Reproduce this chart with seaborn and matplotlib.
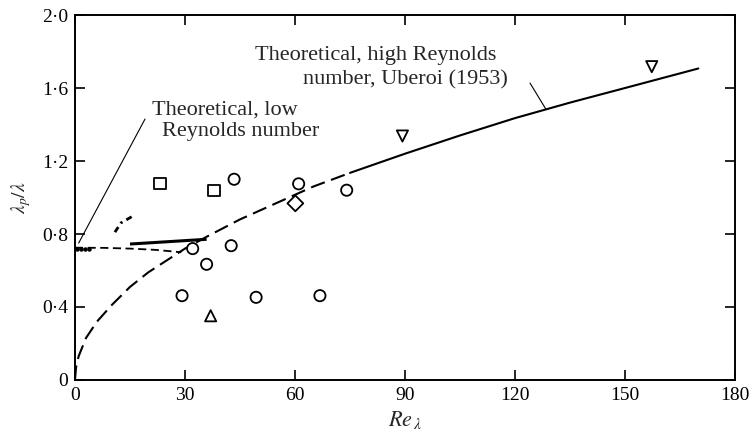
import numpy as np
import pandas as pd
import matplotlib
matplotlib.use("Agg")
import matplotlib.pyplot as plt
from matplotlib.ticker import FuncFormatter
import seaborn as sns

sns.set_theme(style="ticks", context="paper")
plt.rcParams['font.family'] = ['Liberation Serif', 'DejaVu Serif']
plt.rcParams['mathtext.fontset'] = 'stix'
plt.rcParams['axes.linewidth'] = 1.4

# measured points (Re_lambda, lambda_p / lambda)
circle_re = [29.2, 32.1, 35.9, 42.6, 43.4, 49.4, 61.0, 66.8, 74.1]
circle_val = [0.462, 0.72, 0.634, 0.736, 1.10, 0.453, 1.075, 0.462, 1.04]
square_re = [23.2, 37.9]
square_val = [1.078, 1.04]
diamond_re = [60.1]
diamond_val = [0.968]
tri_up_re = [37.0]
tri_up_val = [0.352]
tri_down_re = [89.3, 157.3]
tri_down_val = [1.337, 1.717]

# high Reynolds number theory (Uberoi 1953)
high_re_dash = [0, 0.3, 1, 3, 6, 10, 15, 20, 25, 30, 36, 45, 55, 65, 75]
high_val_dash = [0, 0.07, 0.13, 0.23, 0.32, 0.41, 0.51, 0.59, 0.655, 0.72, 0.786, 0.88, 0.97, 1.06, 1.135]
high_re_solid = [75, 90, 105, 120, 135, 150, 170]
high_val_solid = [1.135, 1.24, 1.34, 1.435, 1.52, 1.60, 1.707]

# low Reynolds number theory
low_re = [0, 8, 15, 22, 29]
low_val = [0.725, 0.724, 0.72, 0.713, 0.70]
low_dots_re = [0.6, 1.6, 2.7, 3.8]
low_dots_val = [0.72, 0.72, 0.72, 0.72]

# short segments
dashdot_re = [10.9, 12.5, 15.5]
dashdot_val = [0.81, 0.86, 0.895]
thick_re = [15.0, 35.9]
thick_val = [0.745, 0.771]

x_ticks = [0, 30, 60, 90, 120, 150, 180]
y_ticks = [0, 0.4, 0.8, 1.2, 1.6, 2.0]

df = pd.concat([
    pd.DataFrame({'Re': circle_re, 'ratio': circle_val, 'kind': 'circle'}),
    pd.DataFrame({'Re': square_re, 'ratio': square_val, 'kind': 'square'}),
    pd.DataFrame({'Re': diamond_re, 'ratio': diamond_val, 'kind': 'diamond'}),
    pd.DataFrame({'Re': tri_up_re, 'ratio': tri_up_val, 'kind': 'up'}),
    pd.DataFrame({'Re': tri_down_re, 'ratio': tri_down_val, 'kind': 'down'}),
], ignore_index=True)
marker_map = {'circle': 'o', 'square': 's', 'diamond': 'D', 'up': '^', 'down': 'v'}

fig = plt.figure(figsize=(7.49, 4.42), dpi=100)
ax = fig.add_axes([0.1001, 0.1403, 0.8812, 0.8257])

# curves
ax.plot(high_re_dash, high_val_dash, color='black', lw=1.5, dashes=(7, 3.2))
ax.plot(high_re_solid, high_val_solid, color='black', lw=1.5)
ax.plot(low_re, low_val, color='black', lw=1.3, dashes=(4.5, 2.5))
ax.plot(low_dots_re, low_dots_val, 'o', color='black', ms=2.2)
ax.plot(dashdot_re, dashdot_val, color='black', lw=2.0, linestyle=(0, (2.2, 1.6, 0.8, 1.6)))
ax.plot(thick_re, thick_val, color='black', lw=2.2, solid_capstyle='butt')

sns.scatterplot(data=df, x='Re', y='ratio', style='kind', markers=marker_map,
                color='black', facecolors='white', edgecolor='black',
                linewidth=1.3, s=65, legend=False, ax=ax, zorder=5)

# annotations
ax.text(21.0, 1.48, 'Theoretical, low', fontsize=16, va='center', ha='left')
ax.text(23.7, 1.36, 'Reynolds number', fontsize=16, va='center', ha='left')
ax.plot([19.1, 1.0], [1.43, 0.75], color='black', lw=0.8)

ax.text(49.1, 1.78, 'Theoretical, high Reynolds', fontsize=16, va='center', ha='left')
ax.text(62.2, 1.644, 'number, Uberoi (1953)', fontsize=16, va='center', ha='left')
ax.plot([124.1, 128.4], [1.627, 1.485], color='black', lw=0.8)

ax.set_xlim(0, 180)
ax.set_ylim(0, 2.0)
ax.set_xticks(x_ticks)
ax.set_yticks(y_ticks)
ax.xaxis.set_major_formatter(FuncFormatter(lambda v, p: f'{v:g}'))
ax.yaxis.set_major_formatter(FuncFormatter(lambda v, p: '0' if v == 0 else f'{v:.1f}'.replace('.', '\u00b7')))
ax.tick_params(direction='in', length=7, width=1.2, top=True, right=True,
               labelsize=14, colors='black', pad=5)
for s in ax.spines.values():
    s.set_color('black')

ax.set_xlabel(r'$Re_{\,\lambda}$', fontsize=16, labelpad=4)
ax.set_ylabel(r'$\lambda_p/\lambda$', fontsize=14, labelpad=6)

fig.savefig('out.png', dpi=100)
